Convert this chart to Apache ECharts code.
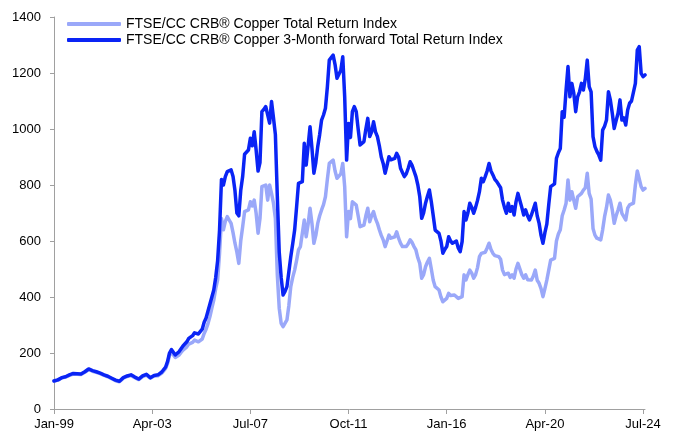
<!DOCTYPE html>
<html>
<head>
<meta charset="utf-8">
<script src="https://cdn.jsdelivr.net/npm/echarts@6/dist/echarts.min.js"></script>
<style>
html,body{margin:0;padding:0;background:#fff;}
#chart{width:679px;height:439px;}
</style>
</head>
<body>
<div id="chart"></div>
<script>
var seriesNames = [
  'FTSE/CC CRB\u00AE Copper Total Return Index',
  'FTSE/CC CRB\u00AE Copper 3-Month forward Total Return Index'
];
var tickLabels = ['Jan-99','Apr-03','Jul-07','Oct-11','Jan-16','Apr-20','Jul-24'];
var startYear = 1999;
var monthNames = ['Jan','Feb','Mar','Apr','May','Jun','Jul','Aug','Sep','Oct','Nov','Dec'];

// Monthly values, Jan-1999 .. Aug-2024
var totalReturn = [
  100, 98, 103, 107, 111, 109, 114, 116, 120, 123, 125, 126,
  124, 122, 123, 126, 131, 136, 141, 139, 135, 133, 131, 128,
  126, 124, 120, 116, 115, 112, 108, 104, 101, 98, 97, 102,
  110, 114, 116, 118, 120, 118, 112, 106, 105, 110, 116, 120,
  121, 116, 110, 113, 118, 121, 119, 122, 128, 134, 145, 163,
  192, 202, 196, 184, 189, 193, 202, 210, 212, 222, 232, 230,
  238, 246, 250, 240, 236, 250, 270, 285, 305, 330, 360, 389,
  430, 461, 557, 680, 640, 670, 687, 675, 663, 630, 592, 560,
  520, 600, 651, 705, 710, 711, 740, 725, 746, 699, 628, 680,
  794, 790, 800, 746, 800, 770, 735, 680, 480, 360, 306, 294,
  300, 318, 370, 437, 470, 496, 530, 568, 580, 580, 675, 615,
  660, 717, 663, 592, 620, 663, 690, 711, 730, 758, 820, 877,
  880, 889, 850, 824, 818, 840, 877, 794, 615, 705, 680, 740,
  746, 728, 690, 651, 655, 657, 690, 717, 669, 690, 705, 680,
  663, 640, 620, 604, 580, 600, 621, 610, 604, 615, 633, 610,
  592, 580, 574, 580, 590, 604, 595, 580, 568, 540, 520, 467,
  480, 508, 525, 538, 500, 460, 437, 430, 425, 400, 383, 390,
  395, 413, 405, 401, 407, 405, 395, 389, 401, 479, 461, 480,
  496, 485, 467, 480, 505, 544, 556, 550, 560, 575, 592, 570,
  556, 548, 544, 544, 535, 496, 480, 473, 485, 470, 479, 467,
  500, 520, 514, 480, 467, 479, 462, 455, 461, 475, 496, 460,
  449, 430, 401, 430, 460, 496, 532, 535, 538, 600, 625, 640,
  690, 711, 735, 818, 746, 776, 746, 717, 758, 764, 770, 782,
  790, 842, 770, 750, 645, 621, 610, 604, 604, 640, 687, 720,
  764, 746, 711, 663, 690, 711, 735, 699, 700, 675, 717, 729,
  732, 735, 800, 850, 845, 794, 782, 788
];

var forwardReturn = [
  100, 99, 104, 108, 112, 110, 115, 118, 122, 125, 127, 128,
  126, 124, 125, 128, 133, 138, 143, 141, 137, 135, 133, 130,
  128, 126, 122, 118, 117, 114, 110, 106, 103, 100, 99, 104,
  112, 116, 118, 120, 122, 120, 114, 108, 107, 112, 118, 122,
  124, 118, 112, 115, 120, 124, 122, 125, 132, 138, 150, 170,
  200, 212, 205, 193, 200, 205, 215, 225, 228, 240, 252, 250,
  262, 272, 278, 268, 264, 285, 310, 325, 350, 375, 400, 425,
  470, 530, 640, 820, 800, 830, 848, 852, 854, 830, 780, 700,
  690, 780, 830, 910, 915, 925, 967, 940, 990, 925, 850, 880,
  1062, 1070, 1080, 1086, 1021, 1098, 1040, 980, 760, 560, 470, 407,
  420, 437, 490, 544, 590, 639, 720, 806, 812, 812, 949, 871,
  940, 1008, 931, 842, 880, 937, 980, 1032, 1050, 1074, 1150, 1246,
  1250, 1264, 1230, 1181, 1187, 1210, 1258, 1115, 889, 1020, 970, 1062,
  1080, 1062, 1000, 943, 950, 955, 1000, 1038, 973, 990, 1026, 990,
  973, 940, 900, 877, 842, 870, 901, 890, 883, 895, 913, 900,
  860, 845, 830, 840, 860, 883, 870, 850, 830, 800, 758, 681,
  700, 735, 760, 782, 740, 690, 639, 635, 627, 600, 556, 570,
  580, 615, 600, 592, 598, 600, 575, 562, 598, 705, 675, 700,
  735, 720, 699, 720, 745, 776, 824, 812, 830, 850, 877, 850,
  836, 820, 812, 806, 790, 746, 720, 699, 735, 706, 723, 693,
  740, 770, 764, 720, 693, 711, 690, 675, 693, 700, 735, 690,
  663, 620, 592, 630, 660, 730, 794, 800, 804, 895, 915, 930,
  1062, 1042, 1139, 1223, 1115, 1163, 1128, 1062, 1115, 1133, 1163, 1139,
  1180, 1246, 1151, 1133, 973, 937, 920, 907, 889, 996, 1010, 1032,
  1133, 1104, 1056, 1002, 1030, 1056, 1104, 1032, 1040, 1014, 1068, 1092,
  1100, 1104, 1163, 1282, 1294, 1199, 1187, 1193
];

var categories = [];
for (var i = 0; i < forwardReturn.length; i++) {
  var y = startYear + Math.floor(i / 12);
  categories.push(monthNames[i % 12] + '-' + String(y).slice(2));
}

var FONT = "'Liberation Sans', Arial, sans-serif";
var chart = echarts.init(document.getElementById('chart'), null, {renderer: 'canvas'});
chart.setOption({
  animation: false,
  backgroundColor: '#ffffff',
  grid: {left: 54, right: 34, top: 17, bottom: 30, containLabel: false},
  legend: {
    orient: 'vertical',
    left: 62,
    top: 12,
    itemGap: 2,
    itemWidth: 54,
    itemHeight: 4,
    icon: 'roundRect',
    textStyle: {fontFamily: FONT, fontSize: 14, color: '#000', lineHeight: 14, padding: [0,0,0,0]},
    data: seriesNames
  },
  xAxis: {
    type: 'category',
    boundaryGap: false,
    data: categories,
    axisLine: {show: true, lineStyle: {color: '#a0a0a0', width: 1}},
    axisTick: {show: true, length: 5, lineStyle: {color: '#a0a0a0'},
      interval: function (idx, val) { return tickLabels.indexOf(val) >= 0; }},
    axisLabel: {fontFamily: FONT, fontSize: 13, color: '#000', margin: 9,
      interval: function (idx, val) { return tickLabels.indexOf(val) >= 0; }},
    splitLine: {show: false}
  },
  yAxis: {
    type: 'value',
    min: 0, max: 1400, interval: 200,
    axisLine: {show: true, lineStyle: {color: '#a0a0a0', width: 1}},
    axisTick: {show: true, length: 4, lineStyle: {color: '#a0a0a0'}},
    axisLabel: {fontFamily: FONT, fontSize: 13, color: '#000', margin: 13,
      formatter: function (v) { return String(v); }},
    splitLine: {show: false}
  },
  series: [
    {
      name: seriesNames[0], type: 'line', data: totalReturn,
      showSymbol: false, symbol: 'none',
      lineStyle: {color: '#9aa8f9', width: 3.5, cap: 'round', join: 'round'},
      itemStyle: {color: '#9aa8f9'}
    },
    {
      name: seriesNames[1], type: 'line', data: forwardReturn,
      showSymbol: false, symbol: 'none',
      lineStyle: {color: '#0a24f5', width: 3.5, cap: 'round', join: 'round'},
      itemStyle: {color: '#0a24f5'}
    }
  ]
});
</script>
</body>
</html>
